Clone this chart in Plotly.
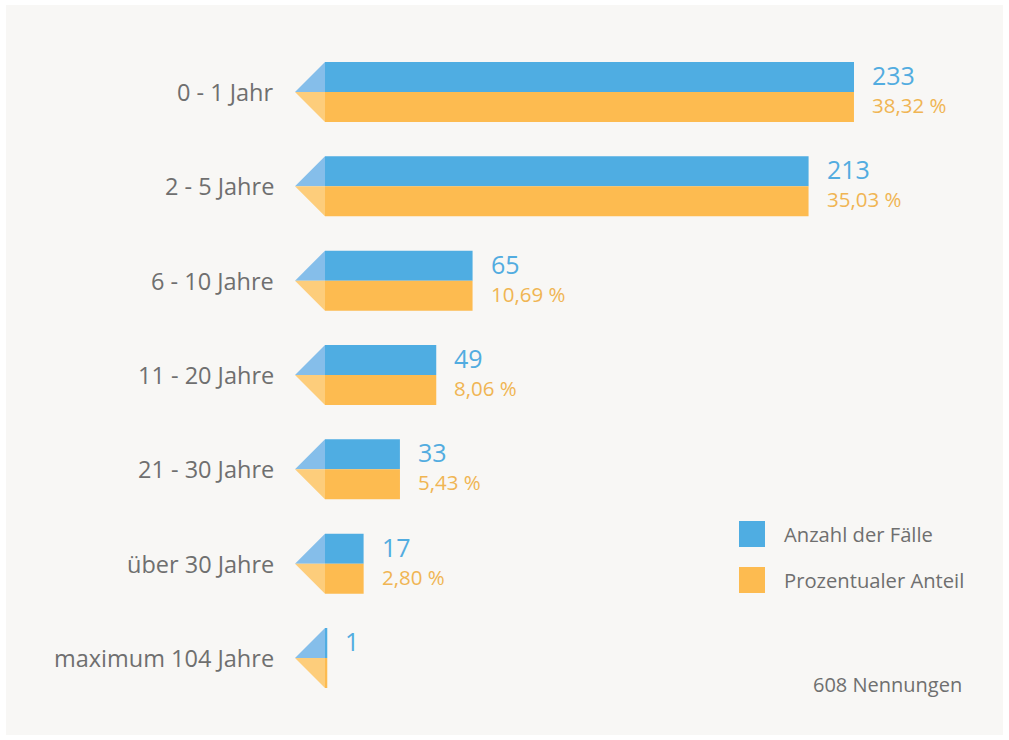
import plotly.graph_objects as go

categories = ["0 - 1 Jahr", "2 - 5 Jahre", "6 - 10 Jahre", "11 - 20 Jahre",
              "21 - 30 Jahre", "über 30 Jahre", "maximum 104 Jahre"]
counts = [233, 213, 65, 49, 33, 17, 1]
percents = [38.32, 35.03, 10.69, 8.06, 5.43, 2.80, None]
percent_labels = ["38,32 %", "35,03 %", "10,69 %", "8,06 %", "5,43 %", "2,80 %", ""]
total = 608
legend_names = ["Anzahl der Fälle", "Prozentualer Anteil"]
note = "608 Nennungen"

BLUE = "#4FADE2"
ORANGE = "#FDBB50"
LBLUE = "#85BEEA"
LORANGE = "#FDCD7B"
GRAY = "#6F6F6F"
BG = "#F8F7F5"
FONT = "Open Sans"

W, H = 1009, 740
ml, mr, mt, mb = 6, 6, 5, 5
K = 529 / 233.0          # px per count unit
X0 = 325                  # pixel of zero
ROW = 94.33               # px per row
Y0 = 92                   # pixel of first row center
xr = [-(X0 - ml) / K, (W - mr - X0) / K]
yr = [(H - mb - Y0) / ROW, -(Y0 - mt) / ROW]
bw = 30 / ROW             # bar thickness in row units
tri = 30 / K              # triangle width in data units

idx = list(range(len(categories)))
orange_len = [(p * total / 100.0) if p is not None else c for p, c in zip(percents, counts)]

fig = go.Figure()
fig.add_trace(go.Bar(orientation="h", x=counts, y=[i - bw / 2 for i in idx], width=bw,
                     marker=dict(color=BLUE, line=dict(width=0)), name=legend_names[0],
                     hoverinfo="skip"))
fig.add_trace(go.Bar(orientation="h", x=orange_len, y=[i + bw / 2 for i in idx], width=bw,
                     marker=dict(color=ORANGE, line=dict(width=0)), name=legend_names[1],
                     hoverinfo="skip"))

shapes = []
annotations = []
for i in idx:
    # decorative arrow head
    shapes.append(dict(type="path", xref="x", yref="y", line=dict(width=0), fillcolor=LBLUE,
                       path=f"M {-tri},{i} L 0,{i - bw} L 0,{i} Z", layer="above"))
    shapes.append(dict(type="path", xref="x", yref="y", line=dict(width=0), fillcolor=LORANGE,
                       path=f"M {-tri},{i} L 0,{i + bw} L 0,{i} Z", layer="above"))
    annotations.append(dict(x=-49 / K, y=i, xref="x", yref="y", text=categories[i],
                            showarrow=False, xanchor="right", yanchor="middle",
                            font=dict(family=FONT, size=23.5, color=GRAY)))
    annotations.append(dict(x=counts[i], y=i - bw / 2, xref="x", yref="y", text=str(counts[i]),
                            showarrow=False, xanchor="left", yanchor="middle", xshift=16,
                            yshift=2,
                            font=dict(family=FONT, size=25, color="#52ACE0")))
    if percent_labels[i]:
        annotations.append(dict(x=orange_len[i], y=i + bw / 2, xref="x", yref="y",
                                text=percent_labels[i], showarrow=False, xanchor="left",
                                yanchor="middle", xshift=16, yshift=2,
                                font=dict(family=FONT, size=20.5, color="#F0B553")))

pw = W - ml - mr
ph = H - mt - mb
def px(x):
    return (x - ml) / pw
def py(y):
    return (H - mb - y) / ph

# legend
for k, (col, name, cy) in enumerate([(BLUE, legend_names[0], 534), (ORANGE, legend_names[1], 580)]):
    shapes.append(dict(type="rect", xref="paper", yref="paper", x0=px(739), x1=px(765),
                       y0=py(cy + 13), y1=py(cy - 13), fillcolor=col, line=dict(width=0)))
    annotations.append(dict(x=px(782), y=py(cy), xref="paper", yref="paper", text=name,
                            showarrow=False, xanchor="left", yanchor="middle",
                            font=dict(family=FONT, size=20.2, color=GRAY)))
annotations.append(dict(x=px(964), y=py(684), xref="paper", yref="paper", text=note,
                        showarrow=False, xanchor="right", yanchor="middle",
                        font=dict(family=FONT, size=20, color=GRAY)))

fig.update_layout(
    width=W, height=H, margin=dict(l=ml, r=mr, t=mt, b=mb),
    paper_bgcolor="white", plot_bgcolor=BG, showlegend=False,
    barmode="overlay",
    xaxis=dict(range=xr, visible=False, fixedrange=True),
    yaxis=dict(range=yr, visible=False, fixedrange=True),
    shapes=shapes, annotations=annotations,
)
fig.write_html("out.html", config={"displayModeBar": False},
               post_script="document.body.style.margin='0px';")
